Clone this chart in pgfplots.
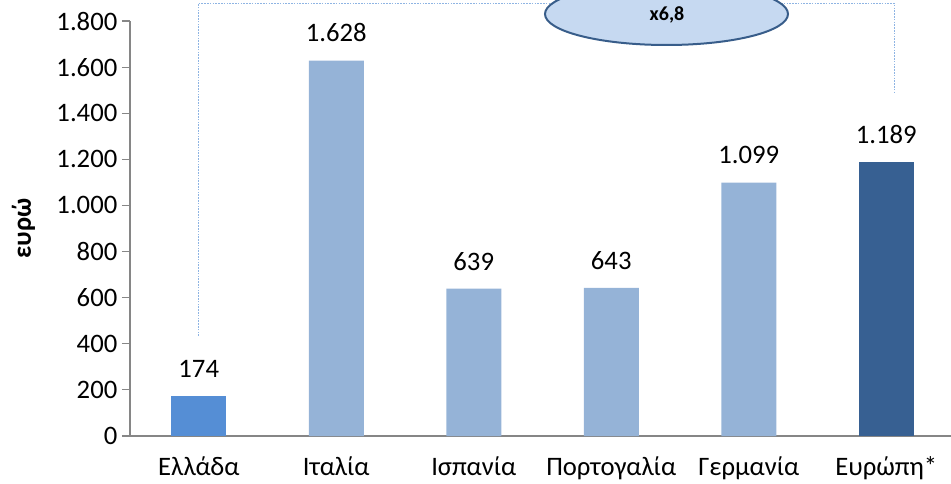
\documentclass[border=0pt]{standalone}
\usepackage{pgfplots}
\pgfplotsset{compat=1.18}
\usepackage{fontspec}
\setmainfont{Carlito}
\definecolor{grc}{HTML}{558ED5}
\definecolor{lbl}{HTML}{95B3D7}
\definecolor{eur}{HTML}{376092}
\definecolor{axg}{HTML}{868686}
\definecolor{ellf}{HTML}{C6D9F1}
\definecolor{elld}{HTML}{385D8A}
\definecolor{dashc}{HTML}{8EB4E3}
\newcommand{\bigf}{\fontsize{20}{24}\selectfont}
\begin{document}
\begin{tikzpicture}
\useasboundingbox (0,0) rectangle (713.25pt,362.25pt);
\begin{axis}[
  at={(97.5pt,35.25pt)}, anchor=south west,
  scale only axis, width=618.75pt, height=311.25pt,
  xmin=-0.5, xmax=5.5, ymin=0, ymax=1800,
  axis x line*=bottom, axis y line*=left,
  axis line style={-, draw=axg, line width=1.1pt},
  ytick={0,200,...,1800},
  yticklabels={0,200,400,600,800,1.000,1.200,1.400,1.600,1.800},
  xtick={0,1,2,3,4,5},
  xticklabels={Ελλάδα,Ιταλία,Ισπανία,Πορτογαλία,Γερμανία,Ευρώπη*},
  major x tick style={draw=none},
  extra x ticks={-0.5,0.5,1.5,2.5,3.5,4.5},
  extra x tick labels={},
  extra x tick style={major tick length=6pt, tick style={draw=axg, line width=0.9pt}},
  tick align=outside,
  major tick length=6pt,
  ytick style={draw=axg, line width=0.9pt},
  /pgf/number format/.cd, 1000 sep={.}, assume math mode=true, /pgfplots/.cd,
  tick label style={font=\bigf},
  xticklabel style={yshift=-6pt},
  ylabel={\textbf{ευρώ}},
  ylabel style={font=\bigf, at={(axis description cs:-0.129,0.5)}, anchor=center},
  ybar, bar width=0.4,
  nodes near coords,
  every node near coord/.append style={font=\bigf, anchor=base, yshift=14pt},
]
\addplot[ybar, bar shift=0pt, fill=grc, draw=none] coordinates {(0,174)};
\addplot[ybar, bar shift=0pt, fill=lbl, draw=none] coordinates {(1,1628) (2,639) (3,643) (4,1099)};
\addplot[ybar, bar shift=0pt, fill=eur, draw=none] coordinates {(5,1189)};
\end{axis}
\begin{scope}[yshift=362.25pt, x=0.75pt, y=-0.75pt]
\draw[dashc, line width=0.6pt, dash pattern=on 1.2pt off 0.9pt] (198.5,336) -- (198.5,3) -- (894,3) -- (894,93);
\draw[elld, fill=ellf, line width=1.5pt] (666.5,14) ellipse [x radius=121.5, y radius=31];
\node[font=\fontsize{15}{18}\selectfont\bfseries] at (667,15) {x6,8};
\end{scope}
\end{tikzpicture}
\end{document}
